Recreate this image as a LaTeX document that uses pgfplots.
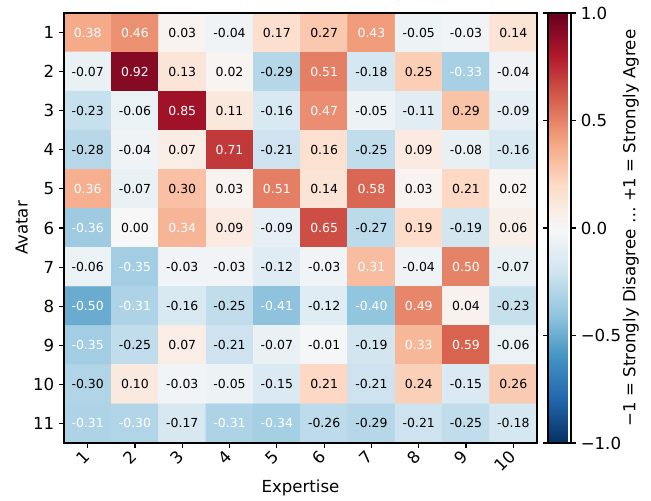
\documentclass[border=0pt]{standalone}
\usepackage{fontspec}
\setmainfont{DejaVu Sans}
\usepackage{pgfplots}
\pgfplotsset{compat=1.18}
\usepackage{pgfplotstable}

\pgfplotstableread{
x y v w
1 1 0.38 1
2 1 0.46 1
3 1 0.03 0
4 1 -0.04 0
5 1 0.17 0
6 1 0.27 0
7 1 0.43 1
8 1 -0.05 0
9 1 -0.03 0
10 1 0.14 0
1 2 -0.07 0
2 2 0.92 1
3 2 0.13 0
4 2 0.02 0
5 2 -0.29 0
6 2 0.51 1
7 2 -0.18 0
8 2 0.25 0
9 2 -0.33 1
10 2 -0.04 0
1 3 -0.23 0
2 3 -0.06 0
3 3 0.85 1
4 3 0.11 0
5 3 -0.16 0
6 3 0.47 1
7 3 -0.05 0
8 3 -0.11 0
9 3 0.29 0
10 3 -0.09 0
1 4 -0.28 0
2 4 -0.04 0
3 4 0.07 0
4 4 0.71 1
5 4 -0.21 0
6 4 0.16 0
7 4 -0.25 0
8 4 0.09 0
9 4 -0.08 0
10 4 -0.16 0
1 5 0.36 1
2 5 -0.07 0
3 5 0.30 0
4 5 0.03 0
5 5 0.51 1
6 5 0.14 0
7 5 0.58 1
8 5 0.03 0
9 5 0.21 0
10 5 0.02 0
1 6 -0.36 1
2 6 0.00 0
3 6 0.34 1
4 6 0.09 0
5 6 -0.09 0
6 6 0.65 1
7 6 -0.27 0
8 6 0.19 0
9 6 -0.19 0
10 6 0.06 0
1 7 -0.06 0
2 7 -0.35 1
3 7 -0.03 0
4 7 -0.03 0
5 7 -0.12 0
6 7 -0.03 0
7 7 0.31 1
8 7 -0.04 0
9 7 0.50 1
10 7 -0.07 0
1 8 -0.50 1
2 8 -0.31 1
3 8 -0.16 0
4 8 -0.25 0
5 8 -0.41 1
6 8 -0.12 0
7 8 -0.40 1
8 8 0.49 1
9 8 0.04 0
10 8 -0.23 0
1 9 -0.35 1
2 9 -0.25 0
3 9 0.07 0
4 9 -0.21 0
5 9 -0.07 0
6 9 -0.01 0
7 9 -0.19 0
8 9 0.33 1
9 9 0.59 1
10 9 -0.06 0
1 10 -0.30 0
2 10 0.10 0
3 10 -0.03 0
4 10 -0.05 0
5 10 -0.15 0
6 10 0.21 0
7 10 -0.21 0
8 10 0.24 0
9 10 -0.15 0
10 10 0.26 0
1 11 -0.31 1
2 11 -0.30 1
3 11 -0.17 0
4 11 -0.31 1
5 11 -0.34 1
6 11 -0.26 0
7 11 -0.29 0
8 11 -0.21 0
9 11 -0.25 0
10 11 -0.18 0
}\heat

\begin{document}
\begin{tikzpicture}
\useasboundingbox (0,0) rectangle (468.72bp,360.72bp);
\begin{axis}[
  at={(46.08bp,41.76bp)}, anchor=south west,
  scale only axis, width=340.56bp, height=309.6bp,
  xmin=0.5, xmax=10.5, ymin=0.5, ymax=11.5, y dir=reverse,
  enlargelimits=false, axis on top,
  xtick={1,2,3,4,5,6,7,8,9,10},
  xticklabels={1,2,3,4,5,6,7,8,9,10},
  ytick={1,2,3,4,5,6,7,8,9,10,11},
  yticklabels={1,2,3,4,5,6,7,8,9,10,11},
  xtick pos=bottom, ytick pos=left,
  tick align=outside, major tick length=3.5bp,
  tick style={black, line width=0.8bp},
  axis line style={line width=0.8bp},
  xticklabel style={xshift=-4bp, yshift=1.5bp, rotate=45, anchor=north east, inner sep=1.5bp, font=\fontsize{12}{14}\selectfont},
  yticklabel style={font=\fontsize{12}{14}\selectfont},
  xlabel={Expertise}, ylabel={Avatar},
  every axis x label/.style={at={(axis description cs:0.5,-0.105)}, anchor=center, font=\fontsize{12}{14}\selectfont},
  every axis y label/.style={at={(axis description cs:-0.0895,0.5)}, rotate=90, anchor=center, font=\fontsize{12}{14}\selectfont},
  colormap={rdbu}{rgb255=(5,48,97) rgb255=(33,102,172) rgb255=(67,147,195) rgb255=(146,197,222) rgb255=(209,229,240) rgb255=(247,247,247) rgb255=(253,219,199) rgb255=(244,165,130) rgb255=(214,96,77) rgb255=(178,24,43) rgb255=(103,0,31)},
  point meta min=-1, point meta max=1,
  colorbar shift/.style={},
  colorbar,
  colorbar style={
    at={(parent axis.north east)}, anchor=north west, xshift=7.92bp,
    scale only axis, width=16.56bp, height=309.6bp,
    ytick={-1,-0.5,0,0.5,1},
    yticklabels={−1.0,−0.5,0.0,0.5,1.0},
    yticklabel style={font=\fontsize{12}{14}\selectfont},
    ylabel={−1 = Strongly Disagree … +1 = Strongly Agree},
    every axis y label/.style={at={(axis description cs:3.6,0.5)}, rotate=90, anchor=center, font=\fontsize{12}{14}\selectfont},
    tick align=outside, major tick length=3.5bp,
    tick style={black, line width=0.8bp},
    axis line style={line width=0.8bp},
  },
]
\addplot[matrix plot, mesh/cols=10, point meta=explicit, faceted color=black!12, line width=0.5bp]
  table[x=x, y=y, meta=v] {\heat};
\addplot[only marks, mark=none, point meta=explicit symbolic,
  visualization depends on={\thisrow{w} \as \wflag},
  nodes near coords={\ifdim\wflag pt>0.5pt\color{white}\fi\pgfplotspointmeta},
  nodes near coords align=center,
  every node near coord/.append style={anchor=center, font=\fontsize{9}{10}\selectfont}]
  table[x=x, y=y, meta=v] {\heat};
\end{axis}
\end{tikzpicture}
\end{document}
